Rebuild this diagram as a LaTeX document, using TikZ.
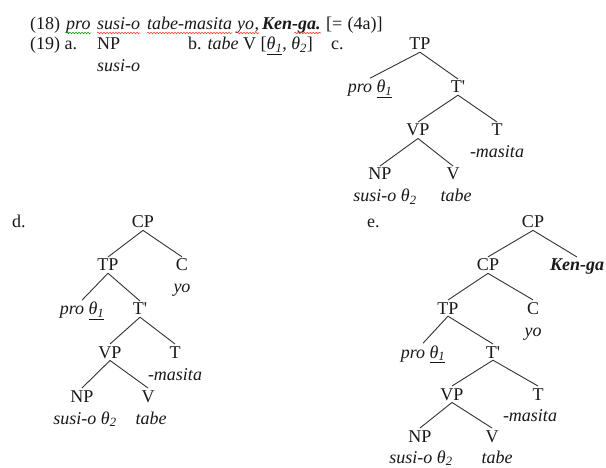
\documentclass[tikz,border=0pt]{standalone}
\usepackage{fontspec}
\setmainfont{Liberation Serif}
\usetikzlibrary{decorations.pathmorphing,calc}
\newcommand\myfs{\fontsize{18}{20}\selectfont}
\begin{document}
\begin{tikzpicture}[x=1pt,y=-1pt,
  every node/.style={inner sep=0pt, font=\myfs, text=black!90},
  cat/.style={anchor=base, inner sep=2pt},
  word/.style={anchor=base, font=\myfs\itshape, inner sep=2pt},
  hw/.style={anchor=base west, inner sep=0pt},
  edge/.style={line width=0.9pt, draw=black!80},
  squig/.style={decorate, decoration={snake, amplitude=0.7pt, segment length=3pt}, line width=0.6pt}
]
\fill[white] (0,0) rectangle (606,468);
\useasboundingbox (0,0) rectangle (606,468);

% ---- header line (18)
\node[hw] (h18) at (30,30) {(18)};
\node[hw, font=\myfs\itshape] (hpro) at (66,30) {pro};
\node[hw, font=\myfs\itshape] (hsusi) at (97,30) {susi-o};
\node[hw, font=\myfs\itshape] (htabe) at (147,30) {tabe-masita};
\node[hw, font=\myfs\itshape] (hyo) at (237,30) {yo};
\node[hw] (hcomma) at (hyo.base east) {,};
\node[hw, font=\myfs\itshape\bfseries] (hken) at (262,30) {Ken-ga.};
\node[hw] (heq) at (326,30) {[=\hspace{0.3em}(4a)]};
\draw[squig, green!60!black] ([yshift=-3pt]hpro.base west) -- ([yshift=-3pt]hpro.base east);
\draw[squig, red!80] ([yshift=-3pt]hsusi.base west) -- ([yshift=-3pt]hsusi.base east);
\draw[squig, red!80] ([yshift=-3pt]htabe.base west) -- ([yshift=-3pt]htabe.base east);
\draw[squig, red!80] ([yshift=-3pt]hyo.base west) -- ([yshift=-3pt]hcomma.base east);
\draw[squig, red!80] ([yshift=-3pt]$(hken.base west)!0.55!(hken.base east)$) -- ([yshift=-3pt]hken.base east);

% ---- line (19)
\node[hw] (h19) at (30,50) {(19) a.};
\node[hw] (aNP) at (97,50) {NP};
\node[hw, font=\myfs\itshape] (asusi) at (97,72) {susi-o};
\node[hw] (bb) at (188,50) {b. \textit{tabe} V [\underline{\textit{θ\textsubscript{1}}}, \textit{θ\textsubscript{2}}]};
\node[hw] (cc) at (331,50) {c.};

% ---- tree c
\node[cat] (cTP) at (420,50) {TP};
\node[word] (cpro) at (370,93) {pro \underline{θ\textsubscript{1}}};
\node[cat] (cTb) at (458,93) {T\textquotesingle};
\node[cat] (cVP) at (418,136) {VP};
\node[cat] (cT) at (497,136) {T};
\node[word] (cmas) at (497,158) {-masita};
\node[cat] (cNP) at (380,180) {NP};
\node[cat] (cV) at (453,180) {V};
\node[word] (csusi) at (385,202) {susi-o θ\textsubscript{2}};
\node[word] (ctabe) at (456,202) {tabe};
\draw[edge] (cTP.south) -- (cpro.north);
\draw[edge] (cTP.south) -- (cTb.north);
\draw[edge] (cTb.south) -- (cVP.north);
\draw[edge] (cTb.south) -- (cT.north);
\draw[edge] (cVP.south) -- (cNP.north);
\draw[edge] (cVP.south) -- (cV.north);

% ---- tree d
\node[hw] (dd) at (12,228) {d.};
\node[cat] (dCP) at (143,228) {CP};
\node[cat] (dTP) at (108,271) {TP};
\node[cat] (dC) at (182,271) {C};
\node[word] (dyo) at (182,293) {yo};
\node[word] (dpro) at (82,315) {pro \underline{θ\textsubscript{1}}};
\node[cat] (dTb) at (140,315) {T\textquotesingle};
\node[cat] (dVP) at (110,358) {VP};
\node[cat] (dT) at (175,358) {T};
\node[word] (dmas) at (175,380) {-masita};
\node[cat] (dNP) at (82,402) {NP};
\node[cat] (dV) at (148,402) {V};
\node[word] (dsusi) at (85,424) {susi-o θ\textsubscript{2}};
\node[word] (dtabe) at (151,424) {tabe};
\draw[edge] (dCP.south) -- (dTP.north);
\draw[edge] (dCP.south) -- (dC.north);
\draw[edge] (dTP.south) -- (dpro.north);
\draw[edge] (dTP.south) -- (dTb.north);
\draw[edge] (dTb.south) -- (dVP.north);
\draw[edge] (dTb.south) -- (dT.north);
\draw[edge] (dVP.south) -- (dNP.north);
\draw[edge] (dVP.south) -- (dV.north);

% ---- tree e
\node[hw] (ee) at (367,228) {e.};
\node[cat] (eCP) at (533,228) {CP};
\node[cat] (eCPb) at (488,271) {CP};
\node[word, font=\myfs\itshape\bfseries] (eken) at (577,271) {Ken-ga};
\node[cat] (eTP) at (448,314) {TP};
\node[cat] (eC) at (533,314) {C};
\node[word] (eyo) at (533,336) {yo};
\node[word] (epro) at (423,358) {pro \underline{θ\textsubscript{1}}};
\node[cat] (eTb) at (493,358) {T\textquotesingle};
\node[cat] (eVP) at (452,400) {VP};
\node[cat] (eT) at (538,400) {T};
\node[word] (emas) at (530,421) {-masita};
\node[cat] (eNP) at (420,442) {NP};
\node[cat] (eV) at (492,442) {V};
\node[word] (esusi) at (421,463) {susi-o θ\textsubscript{2}};
\node[word] (etabe) at (497,463) {tabe};
\draw[edge] (eCP.south) -- (eCPb.north);
\draw[edge] (eCP.south) -- (eken.north);
\draw[edge] (eCPb.south) -- (eTP.north);
\draw[edge] (eCPb.south) -- (eC.north);
\draw[edge] (eTP.south) -- (epro.north);
\draw[edge] (eTP.south) -- (eTb.north);
\draw[edge] (eTb.south) -- (eVP.north);
\draw[edge] (eTb.south) -- (eT.north);
\draw[edge] (eVP.south) -- (eNP.north);
\draw[edge] (eVP.south) -- (eV.north);
\end{tikzpicture}
\end{document}
